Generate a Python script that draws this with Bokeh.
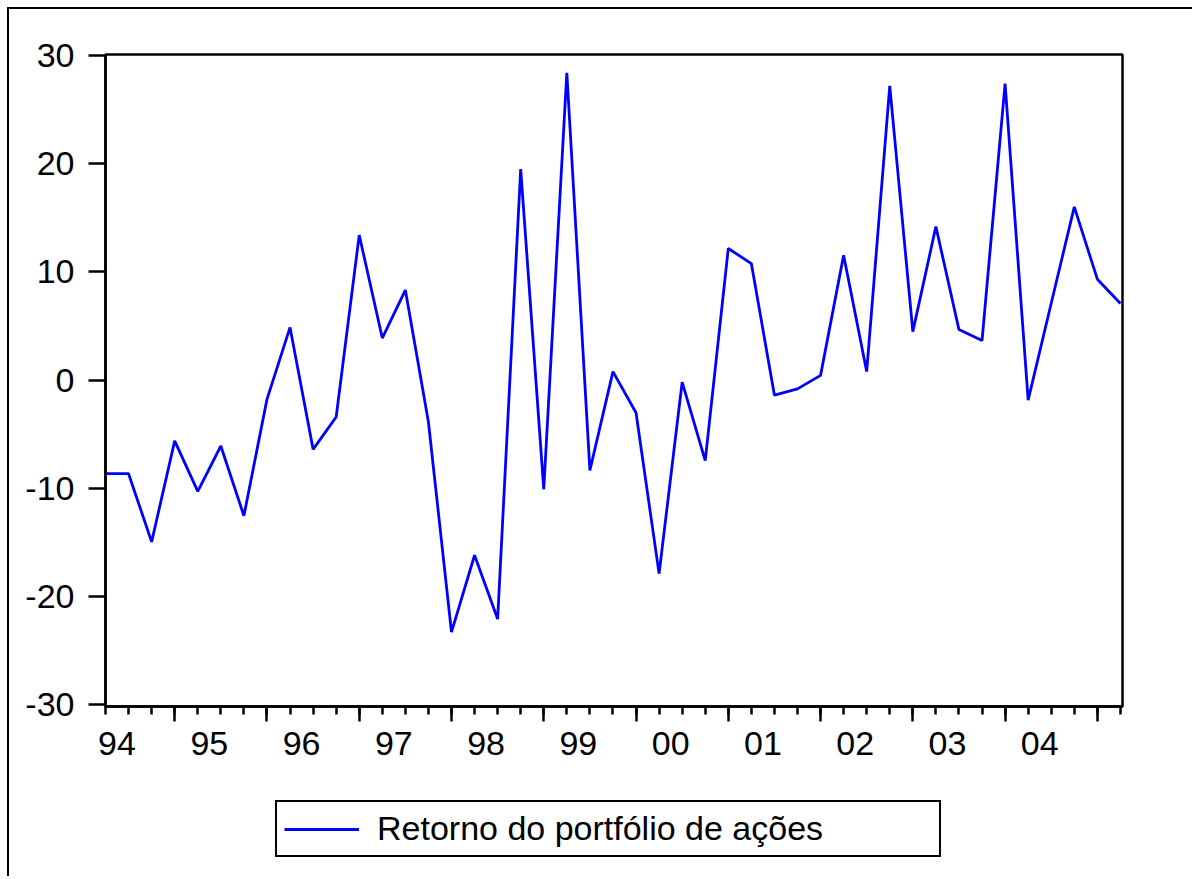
from bokeh.plotting import figure
from bokeh.layouts import column
from bokeh.models import LinearAxis, FixedTicker, Legend, LegendItem, Range1d, ColumnDataSource
from bokeh.embed import file_html
from bokeh.resources import INLINE

# ---------------- data ----------------
quarters = [f"{y}Q{q}" for y in range(1994, 2005) for q in range(1, 5)] + ["2005Q1"]
returns = [-8.66, -8.66, -14.96, -5.63, -10.3, -6.1, -12.55, -1.79, 4.86, -6.41,
           -3.42, 13.4, 3.88, 8.31, -3.88, -23.3, -16.2, -22.1, 19.5, -10.1,
           28.4, -8.35, 0.78, -3.03, -17.9, -0.19, -7.46, 12.16, 10.76, -1.40,
           -0.82, 0.43, 11.54, 0.78, 27.2, 4.47, 14.18, 4.66, 3.65, 27.4,
           -1.86, 7.1, 16.0, 9.32, 7.07]
year_labels = ["94", "95", "96", "97", "98", "99", "00", "01", "02", "03", "04"]
y_ticks = [-30, -20, -10, 0, 10, 20, 30]
series_name = "Retorno do portfólio de ações"

idx = list(range(len(quarters)))
source = ColumnDataSource(dict(x=idx, y=returns, q=quarters))

FONT = "Liberation Sans"
FS = "34px"
BLUE = "#0000FF"
LW = 2.8

main = figure(width=1183, height=780, frame_width=1017, frame_height=652,
              x_range=Range1d(0, len(quarters) - 1 + 0.09), y_range=Range1d(-30.18, 30.09),
              output_backend="svg", toolbar_location=None,
              min_border_left=96, min_border_right=70, min_border_top=45, min_border_bottom=83)
main.background_fill_color = "white"
main.border_fill_color = "white"
main.outline_line_color = "black"
main.outline_line_width = 2.5
main.xgrid.visible = False
main.ygrid.visible = False

r = main.line("x", "y", source=source, line_color=BLUE, line_width=LW)

# x axis with tick marks (no labels)
major_pos = [i * 4 + 3 for i in range(len(year_labels))]
xa = main.xaxis[0]
xa.ticker = FixedTicker(ticks=major_pos, minor_ticks=idx)
xa.major_tick_out = 15
xa.major_tick_in = 0
xa.minor_tick_out = 8
xa.minor_tick_in = 0
xa.major_tick_line_width = 2.5
xa.minor_tick_line_width = 2.5
xa.axis_line_width = 2.5
xa.major_label_overrides = {t: "" for t in major_pos}
xa.major_label_text_font_size = "1px"
xa.major_label_standoff = 0

# second x axis carrying the year labels
label_pos = [i * 4 + 0.5 for i in range(len(year_labels))]
xl = LinearAxis(ticker=FixedTicker(ticks=label_pos, minor_ticks=[]),
                major_label_overrides={pos: lab for pos, lab in zip(label_pos, year_labels)},
                axis_line_color=None, major_tick_line_color=None, minor_tick_line_color=None,
                major_tick_out=0, major_tick_in=0, major_label_standoff=10,
                major_label_text_font=FONT, major_label_text_font_size=FS,
                major_label_text_color="black")
main.add_layout(xl, "below")

# y axis
ya = main.yaxis[0]
ya.ticker = FixedTicker(ticks=y_ticks, minor_ticks=[])
ya.major_label_overrides = {t: str(t) for t in y_ticks}
ya.major_tick_out = 17
ya.major_tick_in = 0
ya.major_tick_line_width = 2.5
ya.axis_line_width = 2.5
ya.major_label_standoff = 14
ya.major_label_text_font = FONT
ya.major_label_text_font_size = FS
ya.major_label_text_color = "black"

# legend strip below the chart (its sample line sits outside the visible range)
leg = figure(width=1183, height=87, x_range=Range1d(0, 1), y_range=Range1d(0, 1),
             x_axis_type=None, y_axis_type=None, output_backend="svg", toolbar_location=None,
             min_border=0)
leg.outline_line_color = None
leg.background_fill_color = "white"
leg.border_fill_color = "white"
leg.xgrid.visible = False
leg.ygrid.visible = False
lr = leg.line(x=[-2, -1], y=[-2, -2], line_color=BLUE, line_width=LW)
legend = Legend(items=[LegendItem(label=series_name, renderers=[lr])],
                location=(170, 19), orientation="vertical",
                border_line_color="black", border_line_width=2, border_line_alpha=1,
                background_fill_color="white", background_fill_alpha=1,
                padding=7, spacing=0, margin=0,
                glyph_width=75, glyph_height=34, label_height=34, label_width=555,
                label_standoff=18,
                label_text_font=FONT, label_text_font_size=FS, label_text_color="black")
leg.add_layout(legend, "center")

p = column(main, leg, spacing=0)
p.styles = {"border-left": "2px solid black", "border-top": "2px solid black",
            "margin-left": "7px", "margin-top": "7px"}

open("out.html", "w").write(file_html(p, INLINE))
